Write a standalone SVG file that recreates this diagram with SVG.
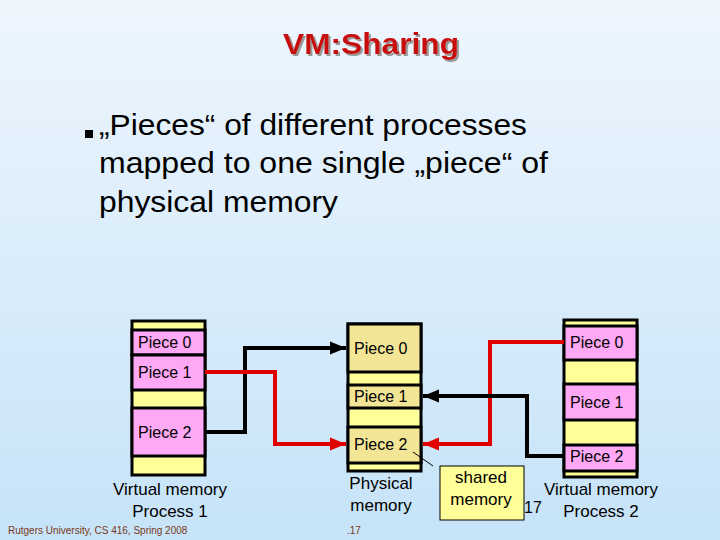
<svg xmlns="http://www.w3.org/2000/svg" width="720" height="540" viewBox="0 0 720 540">
<defs>
<linearGradient id="bg" x1="0" y1="0" x2="0" y2="1"><stop offset="0" stop-color="#eef6fd"/><stop offset="1" stop-color="#c6e3f8"/></linearGradient>
<filter id="sh" x="-10%" y="-20%" width="130%" height="150%"><feDropShadow dx="2" dy="2" stdDeviation="0.5" flood-color="#999"/></filter>
<marker id="ab" viewBox="0 0 10 10" refX="10" refY="5" markerWidth="4" markerHeight="4" orient="auto"><path d="M0,1 L10,5 L0,9 z" fill="#000"/></marker>
<marker id="ar" viewBox="0 0 10 10" refX="10" refY="5" markerWidth="4" markerHeight="4" orient="auto"><path d="M0,1 L10,5 L0,9 z" fill="#e00000"/></marker>
</defs>
<style>
text{font-family:"Liberation Sans",Arial,sans-serif}
.p{fill:#ffa8f5;stroke:#000;stroke-width:3}
.y{fill:#ffff99;stroke:#000;stroke-width:3}
.t{fill:#f2e596;stroke:#000;stroke-width:3}
.l{font-size:16px;fill:#000}
.c{font-size:17px;fill:#000;text-anchor:middle}
.k{fill:none;stroke:#000;stroke-width:4}
.r{fill:none;stroke:#e00000;stroke-width:4}
</style>
<rect width="720" height="540" fill="url(#bg)"/>
<text x="371" y="54" font-size="29" font-weight="bold" fill="#c81010" text-anchor="middle" filter="url(#sh)" textLength="176" lengthAdjust="spacingAndGlyphs">VM:Sharing</text>
<rect x="85" y="130" width="8" height="8" fill="#000"/>
<text x="99" y="135" font-size="29" textLength="428" lengthAdjust="spacingAndGlyphs">„Pieces“ of different processes</text>
<text x="99" y="173" font-size="29" textLength="449" lengthAdjust="spacingAndGlyphs">mapped to one single „piece“ of</text>
<text x="99" y="212" font-size="29" textLength="239" lengthAdjust="spacingAndGlyphs">physical memory</text>
<g id="vm1">
<rect class="y" x="132" y="321" width="73" height="154"/>
<rect class="p" x="132" y="330" width="73" height="25"/>
<rect class="p" x="132" y="355" width="73" height="35"/>
<rect class="p" x="132" y="408" width="73" height="48"/>
<text class="l" x="138" y="348">Piece 0</text>
<text class="l" x="138" y="378">Piece 1</text>
<text class="l" x="138" y="438">Piece 2</text>
<text class="c" x="170" y="495">Virtual memory</text>
<text class="c" x="170" y="517">Process 1</text>
</g>
<g id="phys">
<rect class="y" x="348" y="324" width="73" height="147"/>
<rect class="t" x="348" y="324" width="73" height="48"/>
<rect class="t" x="348" y="385" width="73" height="23"/>
<rect class="t" x="348" y="427" width="73" height="36"/>
<text class="l" x="354" y="354">Piece 0</text>
<text class="l" x="354" y="402">Piece 1</text>
<text class="l" x="354" y="450">Piece 2</text>
<text class="c" x="381" y="489">Physical</text>
<text class="c" x="381" y="511">memory</text>
</g>
<g id="vm2">
<rect class="y" x="564" y="320" width="73" height="157"/>
<rect class="p" x="564" y="326" width="73" height="34"/>
<rect class="p" x="564" y="384" width="73" height="36"/>
<rect class="p" x="564" y="445" width="73" height="26"/>
<text class="l" x="570" y="348">Piece 0</text>
<text class="l" x="570" y="408">Piece 1</text>
<text class="l" x="570" y="462">Piece 2</text>
<text class="c" x="601" y="495">Virtual memory</text>
<text class="c" x="601" y="517">Process 2</text>
</g>
<g id="shared">
<rect x="440" y="466" width="84" height="54" fill="#ffff99" stroke="#000" stroke-width="1"/>
<text class="c" x="481" y="483">shared</text>
<text class="c" x="481" y="505">memory</text>
</g>
<g id="connectors">
<polyline class="k" points="205,432 245,432 245,348 346,348" marker-end="url(#ab)"/>
<polyline class="r" points="205,372 275,372 275,444 346,444" marker-end="url(#ar)"/>
<polyline class="r" points="564,342 490,342 490,444 423,444" marker-end="url(#ar)"/>
<polyline class="k" points="564,456 527,456 527,396 423,396" marker-end="url(#ab)"/>
<line x1="413" y1="452" x2="433" y2="466" stroke="#000" stroke-width="1"/>
</g>
<text x="524" y="513" font-size="16">17</text>
<text x="8" y="534" font-size="10" fill="#7a3a20">Rutgers University, CS 416, Spring 2008</text>
<text x="347" y="534" font-size="10" fill="#7a3a20">.17</text>
</svg>
